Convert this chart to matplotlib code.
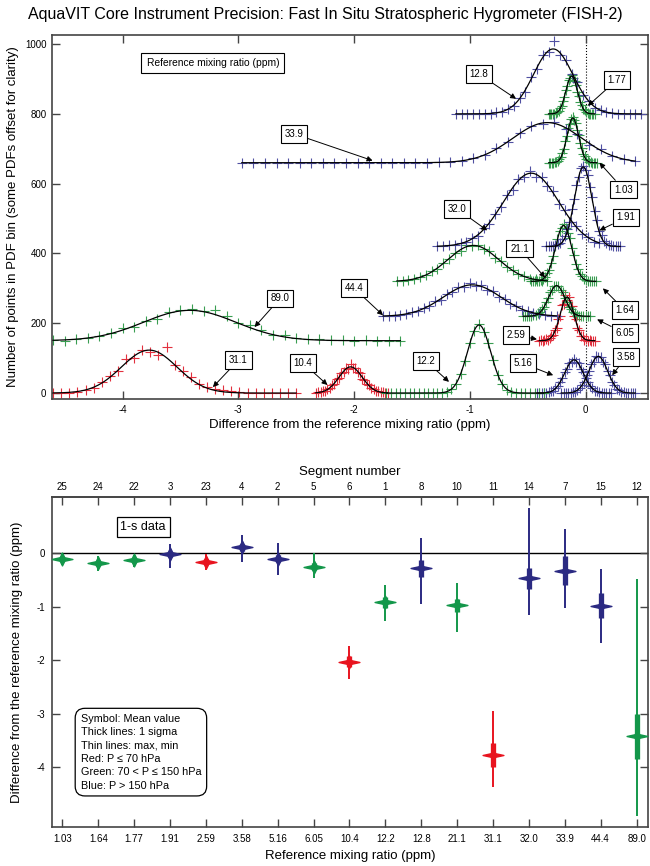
import numpy as np
import matplotlib.pyplot as plt
from matplotlib.path import Path

plt.rcParams['font.family'] = ['Liberation Sans', 'DejaVu Sans']
plt.rcParams['axes.unicode_minus'] = False

# one entry per flight segment, sorted by reference mixing ratio
ref_labels = ['1.03', '1.64', '1.77', '1.91', '2.59', '3.58', '5.16', '6.05', '10.4',
              '12.2', '12.8', '21.1', '31.1', '32.0', '33.9', '44.4', '89.0']
segments = ['25', '24', '22', '3', '23', '4', '2', '5', '6',
            '1', '8', '10', '11', '14', '7', '15', '12']
p_class = ['green', 'green', 'green', 'blue', 'red', 'blue', 'blue', 'green', 'red',
           'green', 'blue', 'green', 'red', 'blue', 'blue', 'blue', 'green']

# statistics of the difference (ppm)
mean_diff = [-0.11, -0.19, -0.12, -0.02, -0.16, 0.11, -0.10, -0.25, -2.03,
             -0.92, -0.28, -0.97, -3.77, -0.47, -0.33, -0.98, -3.42]
sigma_diff = [0.04, 0.05, 0.04, 0.05, 0.05, 0.06, 0.06, 0.06, 0.10,
              0.10, 0.16, 0.12, 0.23, 0.19, 0.27, 0.23, 0.42]
max_diff = [0.00, -0.05, -0.04, 0.17, -0.02, 0.34, 0.19, 0.00, -1.73,
            -0.60, 0.28, -0.55, -2.95, 0.85, 0.46, -0.30, -0.49]
min_diff = [-0.22, -0.33, -0.25, -0.28, -0.32, -0.17, -0.40, -0.47, -2.35,
            -1.26, -0.94, -1.48, -4.38, -1.16, -1.03, -1.67, -4.92]

# PDF histograms: vertical offset, first bin centre, bin width, counts
pdf_offset = [660, 320, 800, 420, 150, 0, 0, 220, 0, 0, 800, 320, 0, 420, 660, 220, 150]
pdf_start = [-0.318, -0.47, -0.32, -0.34, -0.40, -0.21, -0.42, -0.54, -2.33,
             -1.72, -1.12, -1.63, -4.60, -1.28, -2.97, -1.75, -4.60]
pdf_step = [0.013, 0.0175, 0.0125, 0.02, 0.015, 0.02, 0.02, 0.018, 0.02,
            0.04, 0.05, 0.05, 0.07, 0.05, 0.1, 0.05, 0.1]

pdf_1_03 = [0, 0, 0, 0, 1, 3, 6, 12, 16, 28, 40, 61, 76, 99, 110, 126, 130, 121, 115,
            95, 80, 57, 43, 25, 18, 10, 7, 2, 1, 0, 0, 0, 0]
pdf_1_64 = [0, 0, 0, 0, 2, 3, 8, 12, 24, 33, 53, 72, 101, 120, 144, 152, 163, 154, 139,
            125, 95, 76, 50, 35, 20, 14, 6, 4, 1, 0, 0, 0, 0]
pdf_1_77 = [0, 0, 0, 0, 1, 2, 6, 8, 16, 22, 37, 48, 68, 80, 97, 103, 112, 104, 93,
            84, 64, 52, 33, 24, 14, 10, 4, 3, 1, 0, 0, 0, 0]
pdf_1_91 = [0, 0, 0, 0, 3, 6, 9, 21, 29, 51, 70, 108, 136, 176, 198, 224, 232, 218, 204,
            170, 142, 102, 76, 45, 33, 17, 11, 4, 3, 0, 0, 0, 0]
pdf_2_59 = [0, 2, 0, 1, 4, 2, 8, 12, 15, 30, 35, 62, 70, 102, 105, 130, 118, 126, 98,
            100, 70, 62, 35, 30, 12, 14, 3, 4, 0, 1, 0, 0, 0]
pdf_3_58 = [0, 0, 0, 0, 1, 3, 4, 10, 13, 24, 32, 51, 62, 83, 90, 105, 102, 104, 90,
            82, 62, 51, 32, 24, 12, 10, 4, 3, 1, 0, 0, 0, 0]
pdf_5_16 = [0, 0, 0, 0, 1, 2, 5, 7, 14, 19, 33, 42, 60, 70, 86, 90, 97, 90, 86,
            70, 60, 42, 33, 19, 14, 7, 5, 2, 1, 0, 0, 0, 0]
pdf_6_05 = [0, 0, 0, 0, 1, 3, 3, 8, 11, 20, 26, 42, 52, 69, 75, 88, 86, 87, 75,
            69, 52, 42, 26, 20, 11, 8, 4, 2, 1, 0, 0, 0, 0]
pdf_10_4 = [1, 3, 2, 6, 5, 12, 14, 24, 25, 40, 42, 58, 60, 72, 70, 82, 71, 73, 60,
            58, 41, 38, 25, 22, 13, 11, 5, 6, 2, 2, 1, 0]
pdf_12_2 = [0, 0, 0, 0, 0, 0, 0, 0, 0, 0, 0, 0, 1, 3, 12, 25, 55, 93, 143,
            178, 198, 176, 143, 96, 52, 27, 10, 4, 1, 0, 0, 0, 0, 0, 0]
pdf_12_8 = [0, 0, 0, 0, 0, 0, 1, 4, 6, 15, 22, 46, 64, 105, 128, 170, 176, 210, 168,
            155, 115, 90, 55, 38, 18, 11, 4, 2, 0, 0, 0, 0, 0]
pdf_21_1 = [1, 0, 4, 6, 12, 17, 29, 36, 53, 64, 82, 88, 103, 100, 104, 92, 86, 68, 59,
            40, 33, 20, 15, 8, 6, 2, 1]
pdf_31_1 = [0, 0, 1, 3, 8, 14, 31, 48, 62, 98, 101, 122, 118, 108, 131, 80, 62, 45, 27,
            18, 12, 8, 5, 2, 1, 0, 0, 0, 0, 0, 0]
pdf_32_0 = [1, 0, 3, 4, 9, 13, 24, 30, 52, 65, 94, 113, 148, 163, 194, 198, 215, 200, 199,
            172, 158, 122, 104, 70, 58, 35, 28, 14, 11]
pdf_33_9 = [0, 0, 0, 0, 0, 0, 0, 0, 0, 0, 0, 0, 0, 0, 0, 0, 0, 1, 3,
            5, 14, 21, 42, 58, 86, 106, 112, 118, 98, 82, 52, 38, 18, 12, 4]
pdf_44_4 = [0, 2, 1, 5, 6, 12, 14, 25, 28, 44, 47, 63, 69, 84, 85, 94, 88, 90, 76,
            72, 55, 50, 35, 30, 18, 15, 8, 7, 3, 2, 1]
pdf_89_0 = [2, 0, 5, 8, 14, 22, 36, 38, 57, 62, 82, 88, 90, 85, 88, 72, 50, 45, 30,
            15, 16, 8, 5, 4, 2, 1, 0, 1, 0, 0, 0]
pdf_counts = [pdf_1_03, pdf_1_64, pdf_1_77, pdf_1_91, pdf_2_59, pdf_3_58, pdf_5_16,
              pdf_6_05, pdf_10_4, pdf_12_2, pdf_12_8, pdf_21_1, pdf_31_1, pdf_32_0,
              pdf_33_9, pdf_44_4, pdf_89_0]

# gaussian fits to the PDFs (centre = mean_diff)
fit_amp = [128, 160, 108, 228, 125, 105, 95, 88, 75, 195, 186, 103, 123, 210, 115, 90, 87]
fit_width = [0.05, 0.07, 0.05, 0.075, 0.06, 0.08, 0.08, 0.07, 0.10,
             0.10, 0.17, 0.22, 0.24, 0.24, 0.30, 0.25, 0.40]

# label boxes in the PDF panel and where their arrows point
label_xy = [(0.33, 583), (0.34, 237), (0.27, 897), (0.35, 503), (-0.60, 166), (0.35, 103),
            (-0.54, 85), (0.34, 171), (-2.44, 86), (-1.38, 92), (-0.92, 914), (-0.57, 414),
            (-3.00, 94), (-1.11, 528), (-2.52, 743), (-2.00, 300), (-2.64, 271)]
tip_xy = [(0.12, 660), (0.15, 300), (0.02, 823), (0.12, 466), (-0.42, 154), (0.23, 51),
          (-0.28, 51), (0.10, 211), (-2.23, 23), (-1.18, 32), (-0.60, 843), (-0.35, 331),
          (-3.22, 17), (-0.85, 466), (-1.84, 666), (-1.75, 223), (-2.86, 189)]

cross_col = {'red': '#e2303e', 'green': '#3a9e52', 'blue': '#5050a2'}
mark_col = {'red': '#e8141f', 'green': '#13974a', 'blue': '#2b2a82'}
spine_col = '#444444'

fig = plt.figure(figsize=(6.5, 8.66), dpi=100)
fig.text(0.5, 1 - 15 / 866, 'AquaVIT Core Instrument Precision: Fast In Situ Stratospheric '
         'Hygrometer (FISH-2)', ha='center', va='center', fontsize=11.5)

# ---- top: PDFs of the difference ----
ax1 = fig.add_axes([0.08, 0.5393, 0.917, 0.4203])
for i in range(len(ref_labels)):
    counts = np.array(pdf_counts[i])
    xb = pdf_start[i] + pdf_step[i] * np.arange(len(counts))
    col = cross_col[p_class[i]]
    ax1.plot(xb, counts + pdf_offset[i], ls='none', marker='+', ms=6.5, mew=0.8,
             color=col, zorder=2)
    xf = np.linspace(xb[0], xb[-1], 300)
    yf = pdf_offset[i] + fit_amp[i] * np.exp(-(xf - mean_diff[i]) ** 2 / (2 * fit_width[i] ** 2))
    ax1.plot(xf, yf, color='black', lw=0.9, zorder=3)

for i in range(len(ref_labels)):
    ax1.annotate(ref_labels[i], xy=tip_xy[i], xytext=label_xy[i], fontsize=7,
                 ha='center', va='center', zorder=5,
                 bbox=dict(boxstyle='square,pad=0.4', fc='white', ec='black', lw=0.8),
                 arrowprops=dict(arrowstyle='-|>', color='black', lw=0.7,
                                 mutation_scale=8, shrinkA=0, shrinkB=0))

ax1.text(-3.22, 946, 'Reference mixing ratio (ppm)', fontsize=7.4, ha='center', va='center',
         bbox=dict(boxstyle='square,pad=0.5', fc='white', ec='black', lw=0.8))
ax1.axvline(0, color='black', ls=':', lw=0.8, zorder=1)

ax1.set_xlim(-4.61, 0.54)
ax1.set_ylim(-17, 1026)
ax1.set_xticks([-4, -3, -2, -1, 0])
ax1.set_yticks([0, 200, 400, 600, 800, 1000])
ax1.tick_params(direction='in', length=6, width=1, color=spine_col, labelsize=7,
                top=True, right=True, pad=4)
ax1.set_xlabel('Difference from the reference mixing ratio (ppm)', fontsize=9.5, labelpad=3)
ax1.set_ylabel('Number of points in PDF bin (some PDFs offset for clarity)', fontsize=9.5,
               labelpad=4)

# ---- bottom: mean, sigma and range per segment ----
ax2 = fig.add_axes([0.08, 0.045, 0.917, 0.381])
star = Path([(-1, 0), (-0.22, 0.17), (0, 0.62), (0.22, 0.17), (1, 0), (0.22, -0.17),
             (0, -0.62), (-0.22, -0.17), (-1, 0)],
            [Path.MOVETO] + [Path.LINETO] * 7 + [Path.CLOSEPOLY])
xpos = np.arange(len(ref_labels))
ax2.axhline(0, color='black', lw=1.0, zorder=1)
for i in xpos:
    col = mark_col[p_class[i]]
    ax2.vlines(i, min_diff[i], max_diff[i], color=col, lw=1.4, zorder=2)
    ax2.vlines(i, mean_diff[i] - sigma_diff[i], mean_diff[i] + sigma_diff[i], color=col,
               lw=3.8, zorder=3)
    ax2.plot(i, mean_diff[i], marker=star, ms=15, color=col, mec=col, zorder=4)

ax2.text(0.153, 0.91, '1-s data', transform=ax2.transAxes, fontsize=9, ha='center',
         va='center', bbox=dict(boxstyle='square,pad=0.3', fc='white', ec='black', lw=0.9))
legend_txt = ('Symbol: Mean value\nThick lines: 1 sigma\nThin lines: max, min\n'
              'Red: P \u2264 70 hPa\nGreen: 70 < P \u2264 150 hPa\nBlue: P > 150 hPa')
ax2.text(0.048, 0.227, legend_txt, transform=ax2.transAxes, fontsize=7.8, ha='left',
         va='center', linespacing=1.42,
         bbox=dict(boxstyle='round,pad=0.5,rounding_size=0.9', fc='white', ec='black', lw=0.9))

ax2.set_xlim(-0.29, 16.32)
ax2.set_ylim(-5.12, 1.05)
ax2.set_xticks(xpos)
ax2.set_xticklabels(ref_labels)
ax2.set_yticks([0, -1, -2, -3, -4])
ax2.tick_params(direction='in', length=6, width=1, color=spine_col, labelsize=7,
                right=True, pad=5)
ax2.set_xlabel('Reference mixing ratio (ppm)', fontsize=9.5, labelpad=4)
ax2.set_ylabel('Difference from the reference mixing ratio (ppm)', fontsize=9.5, labelpad=10)

top = ax2.secondary_xaxis('top')
top.set_xticks(xpos)
top.set_xticklabels(segments)
top.tick_params(direction='in', length=6, width=1, color=spine_col, labelsize=7, pad=4)
top.set_xlabel('Segment number', fontsize=9.5, labelpad=5)

for ax in (ax1, ax2):
    for s in ax.spines.values():
        s.set_color(spine_col)
        s.set_linewidth(1.2)
for s in top.spines.values():
    s.set_color(spine_col)
    s.set_linewidth(1.2)

fig.savefig('out.png', dpi=100)
